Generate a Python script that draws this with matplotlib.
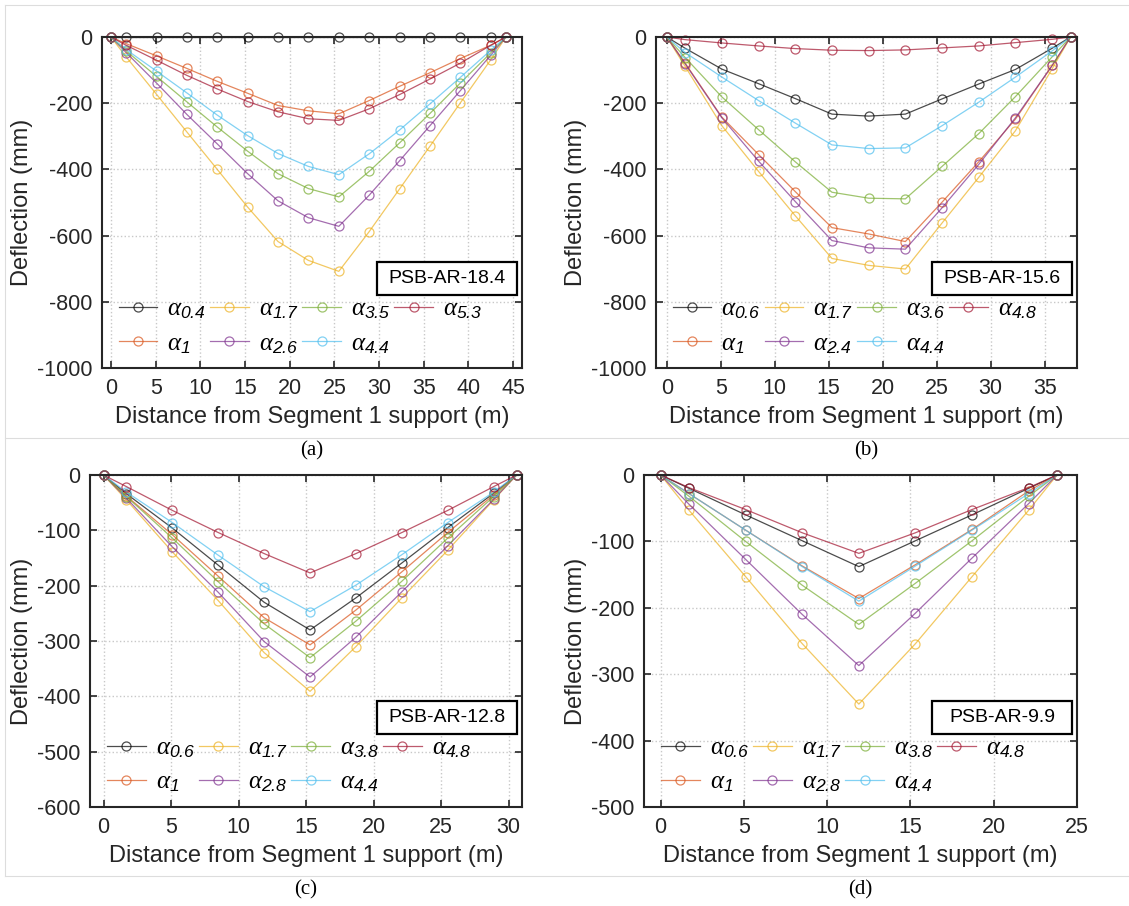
import matplotlib
matplotlib.use("Agg")
import matplotlib.pyplot as plt
from matplotlib.patches import Rectangle
from matplotlib.lines import Line2D

plt.rcParams['font.family'] = ['Liberation Sans', 'DejaVu Sans']
plt.rcParams['mathtext.fontset'] = 'custom'
plt.rcParams['mathtext.it'] = 'Liberation Serif:italic'
plt.rcParams['mathtext.rm'] = 'Liberation Sans'
plt.rcParams['mathtext.sf'] = 'Liberation Sans:italic'
plt.rcParams['axes.unicode_minus'] = False

# ---------------- data ----------------
# (a) PSB-AR-18.4
x_a = [0, 1.7, 5.1, 8.5, 11.9, 15.3, 18.7, 22.1, 25.5, 28.9, 32.3, 35.7, 39.1, 42.5, 44.2]
labels_a = ['0.4', '1', '1.7', '2.6', '3.5', '4.4', '5.3']
a_04 = [0, 0, 0, 0, 0, 0, 0, 0, 0, 0, 0, 0, 0, 0, 0]
a_1 = [0, -20, -57, -95, -134, -170, -207, -223, -232, -192, -149, -108, -65, -25, 0]
a_17 = [0, -60, -173, -287, -400, -514, -618, -675, -708, -588, -459, -330, -199, -69, 0]
a_26 = [0, -47, -139, -234, -323, -413, -495, -546, -572, -478, -374, -268, -162, -55, 0]
a_35 = [0, -42, -119, -196, -272, -345, -413, -458, -483, -406, -320, -231, -139, -48, 0]
a_44 = [0, -38, -103, -169, -236, -298, -352, -391, -416, -353, -281, -202, -122, -40, 0]
a_53 = [0, -25, -70, -116, -157, -195, -226, -247, -252, -217, -174, -127, -79, -25, 0]

# (b) PSB-AR-15.6
x_b = [0, 1.7, 5.1, 8.5, 11.9, 15.3, 18.7, 22.1, 25.5, 28.9, 32.3, 35.7, 37.4]
labels_b = ['0.6', '1', '1.7', '2.4', '3.6', '4.4', '4.8']
b_06 = [0, -34, -97, -141, -186, -233, -239, -233, -187, -142, -98, -34, 0]
b_1 = [0, -79, -242, -355, -467, -576, -595, -618, -499, -377, -248, -86, 0]
b_17 = [0, -89, -268, -406, -540, -669, -690, -701, -562, -424, -283, -96, 0]
b_24 = [0, -81, -244, -375, -497, -615, -637, -641, -516, -385, -244, -86, 0]
b_36 = [0, -62, -181, -280, -377, -469, -487, -489, -391, -292, -180, -60, 0]
b_44 = [0, -47, -121, -192, -260, -326, -337, -335, -268, -197, -121, -42, 0]
b_48 = [0, -8, -18, -27, -35, -40, -41, -39, -33, -27, -17, -7, 0]

# (c) PSB-AR-12.8
x_c = [0, 1.7, 5.1, 8.5, 11.9, 15.3, 18.7, 22.1, 25.5, 28.9, 30.6]
labels_c = ['0.6', '1', '1.7', '2.8', '3.8', '4.4', '4.8']
c_06 = [0, -34, -96, -163, -230, -280, -222, -159, -95, -33, 0]
c_1 = [0, -38, -108, -183, -258, -307, -244, -175, -104, -36, 0]
c_17 = [0, -45, -139, -227, -321, -391, -310, -222, -136, -45, 0]
c_28 = [0, -42, -130, -212, -301, -365, -293, -211, -128, -44, 0]
c_38 = [0, -39, -114, -193, -269, -330, -264, -192, -114, -39, 0]
c_44 = [0, -31, -86, -145, -202, -247, -199, -144, -86, -31, 0]
c_48 = [0, -21, -64, -104, -142, -177, -142, -104, -64, -21, 0]

# (d) PSB-AR-9.9
x_d = [0, 1.7, 5.1, 8.5, 11.9, 15.3, 18.7, 22.1, 23.8]
labels_d = ['0.6', '1', '1.7', '2.8', '3.8', '4.4', '4.8']
d_06 = [0, -20, -60, -99, -138, -99, -60, -20, 0]
d_1 = [0, -28, -83, -137, -186, -135, -82, -24, 0]
d_17 = [0, -53, -153, -254, -345, -254, -153, -53, 0]
d_28 = [0, -44, -127, -210, -287, -208, -125, -43, 0]
d_38 = [0, -32, -100, -166, -225, -163, -99, -32, 0]
d_44 = [0, -28, -83, -138, -190, -137, -83, -28, 0]
d_48 = [0, -19, -52, -87, -118, -87, -52, -19, 0]

colors = ['#000000', '#D95319', '#EDB120', '#7E2F8E', '#77AC30', '#4DBEEE', '#A2142F']

panels = [
    dict(x=x_a, ys=[a_04, a_1, a_17, a_26, a_35, a_44, a_53], labels=labels_a,
         name='PSB-AR-18.4', xlim=(-1, 46), xticks=range(0, 50, 5),
         ylim=(-1000, 0), yticks=range(-1000, 1, 200), tag='(a)',
         rect=(102, 37, 522, 368)),
    dict(x=x_b, ys=[b_06, b_1, b_17, b_24, b_36, b_44, b_48], labels=labels_b,
         name='PSB-AR-15.6', xlim=(-1, 38), xticks=range(0, 40, 5),
         ylim=(-1000, 0), yticks=range(-1000, 1, 200), tag='(b)',
         rect=(656, 37, 1077, 368)),
    dict(x=x_c, ys=[c_06, c_1, c_17, c_28, c_38, c_44, c_48], labels=labels_c,
         name='PSB-AR-12.8', xlim=(-1, 31), xticks=range(0, 35, 5),
         ylim=(-600, 0), yticks=range(-600, 1, 100), tag='(c)',
         rect=(90, 475, 522, 807)),
    dict(x=x_d, ys=[d_06, d_1, d_17, d_28, d_38, d_44, d_48], labels=labels_d,
         name='PSB-AR-9.9', xlim=(-1, 25), xticks=range(0, 30, 5),
         ylim=(-500, 0), yticks=range(-500, 1, 100), tag='(d)',
         rect=(644, 475, 1077, 807)),
]

W, H = 1129, 906
fig = plt.figure(figsize=(W / 100, H / 100), dpi=100)

# faint frame lines of the four sub-images
for (x0, x1, y0) in [(5, 1129, 438), (5, 1129, 876), (5, 1129, 5)]:
    fig.add_artist(Line2D([x0 / W, x1 / W], [1 - y0 / H, 1 - y0 / H], color='#dddddd', lw=0.8))
fig.add_artist(Line2D([5 / W, 5 / W], [1 - 5 / H, 1 - 876 / H], color='#dddddd', lw=0.8))

dark = '#262626'
for p in panels:
    l, t, r, b = p['rect']
    ax = fig.add_axes([l / W, 1 - b / H, (r - l) / W, (b - t) / H])
    for y, lab, c in zip(p['ys'], p['labels'], colors):
        ax.plot(p['x'], y, color=c, alpha=0.7, lw=0.9, marker='o', ms=6.5,
                mfc='none', mew=0.9, clip_on=False,
                label=r'$\alpha_{\mathsf{' + lab + '}}$')
    ax.set_xlim(*p['xlim'])
    ax.set_ylim(*p['ylim'])
    ax.set_xticks(list(p['xticks']))
    ax.set_yticks(list(p['yticks']))
    ax.grid(True, ls=':', color='#c8c8c8', lw=1.0)
    ax.tick_params(direction='in', top=True, right=True, length=5, width=1.2,
                   labelsize=15.5, colors=dark, pad=7)
    for s in ax.spines.values():
        s.set_linewidth(1.5)
        s.set_color(dark)
    ax.set_xlabel('Distance from Segment 1 support (m)', fontsize=17, color=dark, labelpad=5)
    ax.set_ylabel('Deflection (mm)', fontsize=17, color=dark, labelpad=3)
    # name box
    bw, bh = 140 / (r - l), 33 / (b - t)
    bx0 = 1 - 5 / (r - l) - bw
    by0 = 73 / (b - t)
    ax.add_patch(Rectangle((bx0, by0), bw, bh, transform=ax.transAxes, fill=True,
                           facecolor='white', edgecolor='black', lw=1.6, zorder=5))
    ax.text(bx0 + bw / 2, by0 + bh / 2, p['name'], transform=ax.transAxes,
            ha='center', va='center', fontsize=14, color='black', zorder=6)
    ax.legend(loc='lower left', bbox_to_anchor=(0.01, 0.0), ncol=4, frameon=False,
              fontsize=18, handlelength=1.55, handletextpad=0.4, columnspacing=0.15,
              labelspacing=0.38, borderaxespad=0.1)
    fig.text((l + r) / 2 / W, 1 - (b + 83) / H, p['tag'], ha='center', va='center',
             fontsize=15, family='Liberation Serif', color='black')

fig.savefig('out.png', dpi=100)
